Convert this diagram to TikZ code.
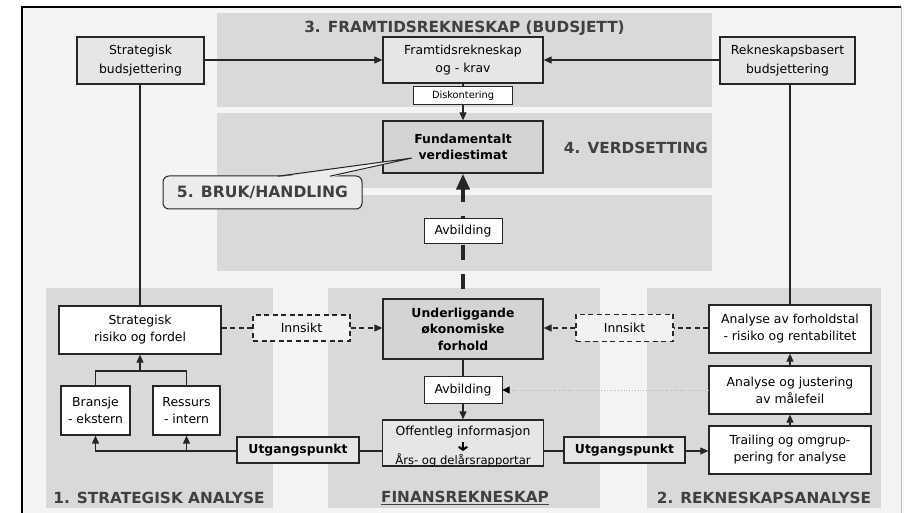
\documentclass[tikz,border=0pt]{standalone}
\usepackage{fontspec}
\setmainfont{DejaVu Sans}
\usetikzlibrary{arrows.meta}
\definecolor{framebg}{HTML}{F4F4F4}
\definecolor{panel}{HTML}{D9D9D9}
\definecolor{lightbox}{HTML}{E6E6E6}
\definecolor{darkbox}{HTML}{D4D4D4}
\definecolor{headc}{HTML}{404040}
\definecolor{bordc}{HTML}{262626}
\definecolor{callfill}{HTML}{ECECEC}
\definecolor{dashfill}{HTML}{F2F2F2}
\tikzset{
  bodyfont/.style={font=\fontsize{12.4}{17}\selectfont},
  basebox/.style={draw=bordc, line width=1.3pt, align=center, inner sep=0pt, bodyfont},
  wbox/.style={basebox, fill=white},
  lbox/.style={basebox, fill=lightbox},
  dbox/.style={basebox, fill=darkbox, font=\bfseries\fontsize{12.4}{16.5}\selectfont},
  insbox/.style={basebox, fill=dashfill, dash pattern=on 5pt off 3.5pt, line width=1.1pt},
  head/.style={inner sep=0pt, text=headc, font=\bfseries\fontsize{15.3}{18}\selectfont},
  txt/.style={inner sep=0pt, bodyfont},
  conn/.style={draw=bordc, line width=1.1pt},
  arr/.style={conn, -{Triangle[length=8pt,width=7pt]}},
  dconn/.style={conn, dash pattern=on 5pt off 3.5pt},
  darr/.style={dconn, -{Triangle[length=8pt,width=7pt]}},
}
\begin{document}
\begin{tikzpicture}[x=1pt,y=-1pt]
\useasboundingbox (0,0) rectangle (906,513);
\fill[white] (0,0) rectangle (906,513);
\fill[framebg] (22,7) rectangle (901,513);
\draw[black, line width=1.5pt] (22,513) -- (22,7) -- (901,7);
\draw[gray!50, line width=1pt] (901,7) -- (901,513);
% panels
\fill[panel] (217,13) rectangle (712,107);
\fill[panel] (217,113) rectangle (712,188);
\fill[panel] (217,195) rectangle (712,271);
\fill[panel] (46,288) rectangle (273,508);
\fill[panel] (328,288) rectangle (600,508);
\fill[panel] (647,288) rectangle (881,508);
% headings
\node[head] (h3) at (464.5,28) {3. FRAMTIDSREKNESKAP (BUDSJETT)};
\node[head] (h4) at (636,148) {4. VERDSETTING};
\node[head] (h1) at (159,498) {1. STRATEGISK ANALYSE};
\node[head] (hf) at (465,498) {\underline{FINANSREKNESKAP}};
\node[head] (h2) at (764,498) {2. REKNESKAPSANALYSE};
% top row
\node[lbox, minimum width=127, minimum height=47, font=\fontsize{12.4}{19}\selectfont] (sb) at (140.5,60.5) {Strategisk\\budsjettering};
\node[lbox, minimum width=160, minimum height=46, font=\fontsize{12.4}{18}\selectfont] (fr) at (463,60) {Framtidsrekneskap\\og - krav};
\node[lbox, minimum width=135, minimum height=47, font=\fontsize{12.4}{19}\selectfont] (rb) at (787.5,60.5) {Rekneskapsbasert\\budsjettering};
\node[wbox, minimum width=99, minimum height=18, line width=1pt, font=\fontsize{9.8}{12}\selectfont] (disk) at (463,96) {Diskontering};
\node[dbox, minimum width=160, minimum height=52] (fv) at (463,147) {Fundamentalt\\verdiestimat};
% middle
\node[dbox, minimum width=160, minimum height=60] (uo) at (463,329) {Underliggande\\økonomiske\\forhold};
\draw[bordc, line width=4pt, dash pattern=on 15pt off 14pt, dash phase=20pt, -{Triangle[length=16pt,width=13pt]}] (uo.north) -- (fv.south);
\node[wbox, minimum width=78, minimum height=25, line width=1pt] (avb1) at (463,231.5) {Avbilding};
% left column
\node[wbox, minimum width=162, minimum height=48] (risk) at (140,330) {Strategisk\\risiko og fordel};
\node[wbox, minimum width=69, minimum height=49] (br) at (95.5,410.5) {Bransje\\- ekstern};
\node[wbox, minimum width=67, minimum height=49] (re) at (186.5,410.5) {Ressurs\\- intern};
\node[insbox, minimum width=97, minimum height=26] (ins1) at (301.5,328) {Innsikt};
\node[lbox, minimum width=122, minimum height=26, font=\bfseries\fontsize{12.4}{15}\selectfont] (ut1) at (298,450) {Utgangspunkt};
% center bottom
\node[wbox, minimum width=78, minimum height=26, line width=1pt] (avb2) at (463,390) {Avbilding};
\node[lbox, minimum width=161, minimum height=46] (off) at (463,443) {};
\node[txt] (offa) at (463,432) {Offentleg informasjon};
\coordinate (offbtop) at (463,442);
\coordinate (offbbot) at (463,451);
\draw[black, line width=2.3pt, -{Straight Barb[length=3pt,width=8.5pt,line width=2.1pt]}] (offbtop) -- (offbbot);
\node[txt, font=\fontsize{11.6}{13}\selectfont] (offc) at (463,460) {Års- og delårsrapportar};
% right column
\node[wbox, minimum width=162, minimum height=48] (an) at (790,329) {Analyse av forholdstal\\- risiko og rentabilitet};
\node[wbox, minimum width=162, minimum height=48] (aj) at (790,390) {Analyse og justering\\av målefeil};
\node[wbox, minimum width=162, minimum height=48] (tr) at (790,450) {Trailing og omgrup-\\pering for analyse};
\node[insbox, minimum width=97, minimum height=27] (ins2) at (624.5,328) {Innsikt};
\node[lbox, minimum width=121, minimum height=26, font=\bfseries\fontsize{12.4}{15}\selectfont] (ut2) at (624.5,450) {Utgangspunkt};
% connectors top
\draw[arr] (sb.east |- fr.west) -- (fr.west);
\draw[arr] (rb.west |- fr.east) -- (fr.east);
\draw[conn] (fr.south) -- (disk.north);
\draw[arr] (disk.south) -- (fv.north);
\draw[conn] (risk.north |- sb.south) -- (risk.north);
\draw[conn] (an.north |- rb.south) -- (an.north);
% Innsikt dashed
\draw[dconn] (risk.east |- ins1.west) -- (ins1.west);
\draw[darr] (ins1.east) -- (uo.west |- ins1.east);
\draw[dconn] (an.west |- ins2.east) -- (ins2.east);
\draw[darr] (ins2.west) -- (uo.east |- ins2.west);
% center bottom
\draw[conn] (uo.south) -- (avb2.north);
\draw[arr] (avb2.south) -- (off.north);
\draw[gray!60, line width=0.8pt, dotted, -{Triangle[length=7pt,width=7pt,color=black]}] (aj.west) -- (avb2.east |- aj.west);
% right stack
\draw[arr] (tr.north) -- (aj.south);
\draw[arr] (aj.north) -- (an.south);
% Utgangspunkt connectors
\coordinate (uy) at (0,451);
\draw[conn] (ut1.east |- uy) -- (off.west |- uy);
\draw[arr] (ut1.west |- uy) -| (br.south);
\draw[arr] (re.south |- uy) -- (re.south);
\draw[conn] (off.east |- uy) -- (ut2.west |- uy);
\draw[arr] (ut2.east |- uy) -- (tr.west |- uy);
% branches to risk
\coordinate (jy) at (0,371);
\draw[conn] (br.north) -- (br.north |- jy) -- (re.north |- jy) -- (re.north);
\draw[arr] (risk.south |- jy) -- (risk.south);
% callout
\node[draw=bordc, line width=1pt, fill=callfill, rounded corners=6pt, minimum width=199, minimum height=33, inner sep=0pt, text=headc, font=\bfseries\fontsize{15.6}{18}\selectfont] (call) at (262.5,192.5) {5. BRUK/HANDLING};
\coordinate (calltip) at (412,158);
\fill[callfill] (278,177.5) -- (calltip) -- (330,177.5) -- cycle;
\draw[bordc, line width=1pt] (278,176.2) -- (calltip) -- (330,176.2);
\end{tikzpicture}
\end{document}
